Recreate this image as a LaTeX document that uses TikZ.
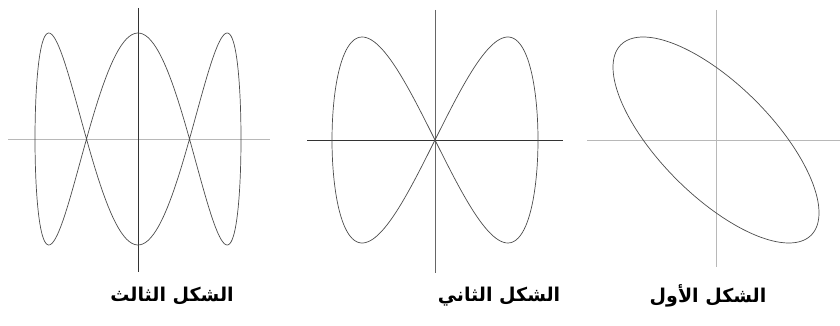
\documentclass[tikz,border=0pt]{standalone}
\usepackage{fontspec}
\TeXXeTstate=1
\newfontfamily\arabicfont[Script=Arabic]{DejaVu Sans}
\usetikzlibrary{positioning}

\begin{document}
\begin{tikzpicture}[
    x=1pt, y=-1pt,
    curve/.style={draw=black!70, line width=0.7pt},
    lightaxis/.style={draw=black!28, line width=1pt},
    darkaxis/.style={draw=black!80, line width=0.9pt},
    caption/.style={font=\arabicfont\bfseries\fontsize{19}{22}\selectfont, inner sep=0pt},
]
    \useasboundingbox (0,0) rectangle (840,326);

    % centres of the three figures
    \coordinate (o3) at (138,139);
    \coordinate (o2) at (435,140);
    \coordinate (o1) at (716,140);

    % third figure (left)
    \draw[lightaxis] (8,139) -- (270,139);
    \draw[darkaxis] (138,8) -- (138,272);
    \draw[curve, shift={(o3)}] plot[domain=0:360, samples=240, variable=\t]
        ({103*cos(\t)}, {106*sin(3*\t)}) -- cycle;

    % second figure (middle)
    \draw[darkaxis] (307,140) -- (563,140);
    \draw[darkaxis, draw=black!60] (435,10) -- (435,273);
    \draw[curve, shift={(o2)}] plot[domain=0:360, samples=200, variable=\t]
        ({103*sin(\t)}, {103*sin(2*\t)}) -- cycle;

    % first figure (right)
    \draw[lightaxis] (587,140) -- (840,140);
    \draw[lightaxis] (716,10) -- (716,267);
    \draw[curve, shift={(o1)}] plot[domain=0:360, samples=160, variable=\t]
        ({103*sin(\t)}, {-103*sin(\t+135)}) -- cycle;

    % captions
    \node[caption] (cap3) at (172,296) {\beginR الشكل الثالث\endR};
    \node[caption] (cap2) at (499,297) {\beginR الشكل الثاني\endR};
    \node[caption] (cap1) at (708,296) {\beginR الشكل الأول\endR};
\end{tikzpicture}
\end{document}
